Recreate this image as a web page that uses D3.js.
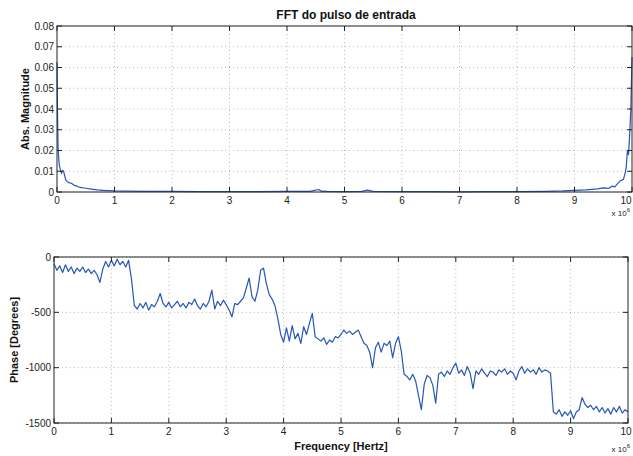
<!DOCTYPE html>
<html>
<head>
    <title>FFT do pulso de entrada</title>
    <script src="https://d3js.org/d3.v7.min.js"></script>
    <style>
        body {
            margin: 0;
            padding: 0;
            background: #fff;
            font-family: "Liberation Sans", Arial, sans-serif;
        }
        .grid line {
            stroke: #bbb;
            stroke-width: 1px;
            stroke-dasharray: 1,3;
        }
        .frame {
            fill: none;
            stroke: #222;
            stroke-width: 1px;
        }
        .tick-label {
            font-size: 10px;
            fill: #222;
        }
        .axis-title {
            font-size: 11px;
            font-weight: bold;
            fill: #111;
        }
        .trace {
            fill: none;
            stroke: #2556b8;
            stroke-width: 1.2px;
            stroke-linejoin: round;
        }
    </style>
</head>
<body>
<div id="chart"></div>
<script>
    // x axis ticks (units of 10^6 Hz)
    const freqTicks = [0, 1, 2, 3, 4, 5, 6, 7, 8, 9, 10];
    const magTicks = [0, 0.01, 0.02, 0.03, 0.04, 0.05, 0.06, 0.07, 0.08];
    const phaseTicks = [0, -500, -1000, -1500];

    // magnitude spectrum
    const magFreq = [0, 0.01, 0.02, 0.04, 0.06, 0.08, 0.1, 0.12, 0.15, 0.18,
        0.2, 0.25, 0.3, 0.35, 0.4, 0.5, 0.6, 0.7, 0.8, 1.0,
        1.2, 1.5, 2, 2.5, 3, 3.5, 4, 4.4, 4.55, 4.6,
        4.7, 5, 5.3, 5.4, 5.5, 6, 6.5, 7, 7.5, 8,
        8.5, 8.8, 9.0, 9.2, 9.4, 9.5, 9.6, 9.65, 9.7, 9.75,
        9.8, 9.85, 9.88, 9.9, 9.92, 9.94, 9.96, 9.98, 10];
    const magValues = [0.0625, 0.035, 0.02, 0.013, 0.0105, 0.009, 0.0105, 0.0095, 0.006, 0.005,
        0.0045, 0.0042, 0.0032, 0.0028, 0.0022, 0.0018, 0.0014, 0.001, 0.0008, 0.0005,
        0.0004, 0.0003, 0.0003, 0.0002, 0.0002, 0.0002, 0.0003, 0.0003, 0.0012, 0.0004,
        0.0003, 0.0002, 0.0003, 0.0009, 0.0003, 0.0002, 0.0002, 0.0001, 0.0002, 0.0002,
        0.0003, 0.0005, 0.0008, 0.001, 0.0015, 0.002, 0.0018, 0.0028, 0.0025, 0.004,
        0.0055, 0.006, 0.009, 0.012, 0.02, 0.018, 0.028, 0.04, 0.065];

    // phase in degrees, sampled every 0.05 x 10^6 Hz from 0 to 10
    const phaseStep = 0.05;
    const phaseValues = [
        -60, -120, -80, -140, -70, -130, -90, -150, -100, -130,
        -90, -140, -110, -150, -120, -160, -230, -110, -40, -90,
        -30, -80, -20, -70, -40, -90, -30, -200, -440, -470,
        -420, -460, -410, -480, -430, -450, -400, -330, -420, -450,
        -410, -460, -430, -400, -450, -420, -460, -410, -430, -380,
        -440, -470, -420, -450, -400, -300, -470, -400, -440, -390,
        -430, -480, -540, -420, -430, -400, -370, -280, -190, -360,
        -400, -300, -120, -100, -240, -340, -380, -440, -560, -700,
        -770, -640, -760, -620, -740, -690, -780, -630, -700, -600,
        -510, -720, -740, -760, -730, -790, -750, -770, -720, -730,
        -700, -660, -690, -670, -700, -680, -660, -720, -780, -800,
        -860, -1000, -820, -770, -860, -780, -800, -760, -910, -780,
        -720, -850, -1060, -1080, -1110, -1060, -1120, -1250, -1380, -1150,
        -1070, -1090, -1160, -1320, -1060, -1040, -1080, -1030, -1060, -1000,
        -960, -1050, -1020, -1070, -990, -1050, -1190, -1030, -1060, -1010,
        -1050, -1080, -1030, -1040, -1070, -1020, -1040, -1010, -1060, -1030,
        -1050, -1110, -1030, -990, -1050, -1010, -1040, -1020, -1060, -1000,
        -1040, -1020, -1030, -1050, -1400, -1420, -1380, -1440, -1400, -1430,
        -1390, -1460, -1400, -1380, -1270, -1330, -1360, -1340, -1380, -1350,
        -1400, -1360, -1410, -1370, -1420, -1360, -1400, -1350, -1410, -1380,
        -1400
    ];

    const W = 633, H = 456;
    const svg = d3.select("#chart").append("svg")
        .attr("width", W)
        .attr("height", H);

    // draws one MATLAB-like axes box
    function drawPanel(box, yDomain, yTicks, yFormat, points, expY) {
        const x = d3.scaleLinear().domain([0, 10]).range([box.left, box.right]);
        const y = d3.scaleLinear().domain(yDomain).range([box.bottom, box.top]);
        const g = svg.append("g");

        const grid = g.append("g").attr("class", "grid");
        grid.selectAll(".gx").data(freqTicks.slice(1, -1)).enter().append("line")
            .attr("x1", d => x(d)).attr("x2", d => x(d))
            .attr("y1", box.top).attr("y2", box.bottom);
        grid.selectAll(".gy").data(yTicks).enter().append("line")
            .attr("x1", box.left).attr("x2", box.right)
            .attr("y1", d => y(d)).attr("y2", d => y(d));

        const line = d3.line().x(d => x(d[0])).y(d => y(d[1]));
        g.append("path").attr("class", "trace").attr("d", line(points));

        g.append("rect").attr("class", "frame")
            .attr("x", box.left).attr("y", box.top)
            .attr("width", box.right - box.left).attr("height", box.bottom - box.top);

        // inward ticks
        const tl = 5;
        freqTicks.forEach(t => {
            g.append("line").attr("class", "frame")
                .attr("x1", x(t)).attr("x2", x(t)).attr("y1", box.bottom).attr("y2", box.bottom - tl);
            g.append("line").attr("class", "frame")
                .attr("x1", x(t)).attr("x2", x(t)).attr("y1", box.top).attr("y2", box.top + tl);
        });
        yTicks.forEach(t => {
            g.append("line").attr("class", "frame")
                .attr("x1", box.left).attr("x2", box.left + tl).attr("y1", y(t)).attr("y2", y(t));
            g.append("line").attr("class", "frame")
                .attr("x1", box.right).attr("x2", box.right - tl).attr("y1", y(t)).attr("y2", y(t));
        });

        g.selectAll(".xl").data(freqTicks).enter().append("text")
            .attr("class", "tick-label")
            .attr("x", d => Math.min(x(d), W - 7)).attr("y", box.bottom + 12)
            .attr("text-anchor", "middle")
            .text(d => d);
        g.selectAll(".yl").data(yTicks).enter().append("text")
            .attr("class", "tick-label")
            .attr("x", box.left - 3).attr("y", d => y(d) + 3.5)
            .attr("text-anchor", "end")
            .text(yFormat);

        // exponent label
        const ex = g.append("text").attr("class", "tick-label")
            .attr("x", W - 3).attr("y", expY)
            .attr("text-anchor", "end")
            .style("font-size", "8px");
        ex.append("tspan").text("x 10");
        ex.append("tspan").attr("dy", -4).style("font-size", "6px").text("6");

        return { x, y };
    }

    const topBox = { left: 57, right: 632, top: 26, bottom: 192 };
    const botBox = { left: 54, right: 628, top: 257, bottom: 423 };

    const magPoints = magFreq.map((f, i) => [f, magValues[i]]);
    drawPanel(topBox, [0, 0.08], magTicks, d => d === 0 ? "0" : d3.format(".2f")(d), magPoints, 216);

    const phasePoints = phaseValues.map((v, i) => [i * phaseStep, v]);
    drawPanel(botBox, [-1500, 0], phaseTicks, d => d, phasePoints, 452);

    svg.append("text").attr("class", "axis-title")
        .attr("x", 346).attr("y", 19)
        .attr("text-anchor", "middle")
        .style("font-size", "12px")
        .text("FFT do pulso de entrada");

    svg.append("text").attr("class", "axis-title")
        .attr("transform", "translate(29,109) rotate(-90)")
        .attr("text-anchor", "middle")
        .text("Abs. Magnitude");

    svg.append("text").attr("class", "axis-title")
        .attr("transform", "translate(18,340) rotate(-90)")
        .attr("text-anchor", "middle")
        .text("Phase [Degrees]");

    svg.append("text").attr("class", "axis-title")
        .attr("x", 341).attr("y", 450)
        .attr("text-anchor", "middle")
        .text("Frequency [Hertz]");
</script>
</body>
</html>
